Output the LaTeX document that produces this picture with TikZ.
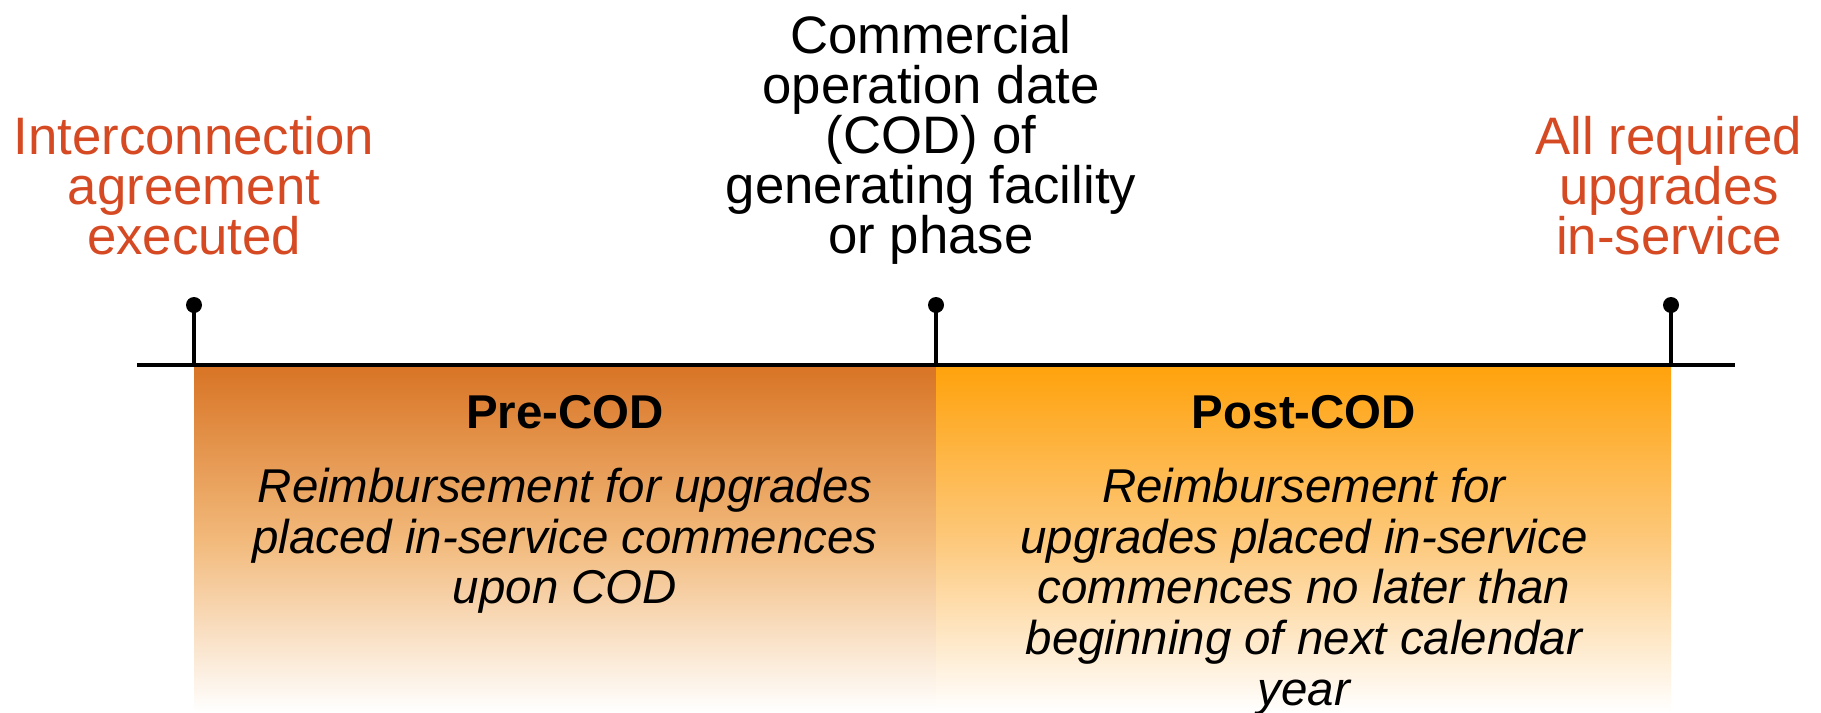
\documentclass[tikz,border=0pt]{standalone}
\usepackage{fontspec}
\setmainfont{Liberation Sans}
\usetikzlibrary{positioning}
\definecolor{milered}{HTML}{D64A23}
\definecolor{precod}{HTML}{D87425}
\definecolor{premid}{HTML}{F2B97A}
\definecolor{postcod}{HTML}{FFA20C}
\definecolor{postmid}{HTML}{FDC87A}

\begin{document}
\begin{tikzpicture}[
  milestone/.style={align=center, inner sep=0pt, font=\fontsize{15}{14.2}\selectfont},
  phasetitle/.style={inner sep=0pt, font=\fontsize{13.5}{14.4}\selectfont\bfseries},
  phasetext/.style={align=center, inner sep=0pt, font=\fontsize{13.5}{14.4}\selectfont\itshape},
  pindot/.style={circle, fill=black, inner sep=0pt, minimum size=0.16cm},
  stem/.style={line width=1.15pt}
]
  \useasboundingbox (0,0) rectangle (18.21,7.12);

  % Phase bands (fading down to white)
  \shade[top color=precod, bottom color=white, middle color=premid] (1.94,0) rectangle (9.36,3.46);
  \shade[top color=postcod, bottom color=white, middle color=postmid] (9.36,0) rectangle (16.71,3.46);

  % Timeline axis
  \coordinate (axisw) at (1.37,3.47);
  \coordinate (axise) at (17.35,3.47);
  \draw[line width=1.3pt] (axisw) -- (axise);

  % Milestone pins
  \node[pindot] (iapin) at (1.94,4.07) {};
  \node[pindot] (codpin) at (9.36,4.07) {};
  \node[pindot] (uppin) at (16.71,4.07) {};
  \coordinate (iabase) at (1.94,3.47);
  \coordinate (codbase) at (9.36,3.47);
  \coordinate (upbase) at (16.71,3.47);
  \draw[stem] (iapin.center) -- (iabase);
  \draw[stem] (codpin.center) -- (codbase);
  \draw[stem] (uppin.center) -- (upbase);

  % Milestone labels
  \node[milestone, text=milered] (ialabel) at (1.94,5.26) {Interconnection\\agreement\\executed};
  \node[milestone] (codlabel) at (9.31,5.72) {Commercial\\operation date\\(COD) of\\generating facility\\or phase};
  \node[milestone, text=milered] (uplabel) at (16.69,5.26) {All required\\upgrades\\in-service};

  % Phase texts
  \node[phasetitle] (pretitle) at (5.65,3.00) {Pre-COD};
  \node[phasetext, below=0.38cm of pretitle] (pretext) {Reimbursement for upgrades\\placed in-service commences\\upon COD};
  \node[phasetitle] (posttitle) at (13.04,3.00) {Post-COD};
  \node[phasetext, below=0.38cm of posttitle] (posttext) {Reimbursement for\\upgrades placed in-service\\commences no later than\\beginning of next calendar\\year};
\end{tikzpicture}
\end{document}
